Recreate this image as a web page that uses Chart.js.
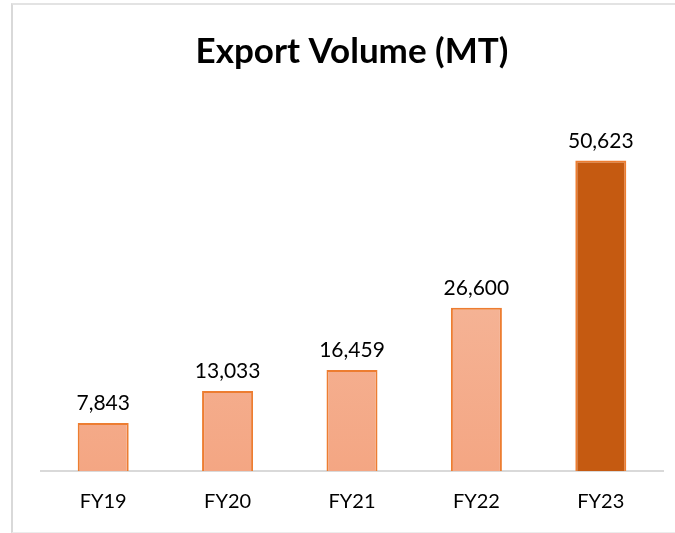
<!DOCTYPE html>
<html lang="en">
<head>
    <meta charset="UTF-8">
    <title>Export Volume (MT)</title>
    <script src="https://cdn.jsdelivr.net/npm/chart.js"></script>
    <style>
        body { margin: 0; background: #fff; }
        #frame {
            position: absolute; left: 11px; top: 3px; width: 670px; height: 527px;
            border-left: 2px solid #d9d9d9; border-top: 2px solid #e3e3e3; border-bottom: 1px solid #ececec;
        }
        #wrap { position: absolute; left: 0; top: 0; width: 675px; height: 533px; }
    </style>
</head>
<body>
    <div id="frame"></div>
    <div id="wrap"><canvas id="myChart"></canvas></div>
<script>
    const years = ['FY19', 'FY20', 'FY21', 'FY22', 'FY23'];
    const volume = [7843, 13033, 16459, 26600, 50623];
    const highlight = [false, false, false, false, true];

    // 막대 위에 값 쓰기
    const valueLabels = {
        id: 'valueLabels',
        afterDatasetsDraw(chart) {
            const ctx = chart.ctx;
            const meta = chart.getDatasetMeta(0);
            ctx.save();
            ctx.font = '21px Lato, sans-serif';
            ctx.fillStyle = '#000';
            ctx.textAlign = 'center';
            ctx.textBaseline = 'bottom';
            meta.data.forEach((bar, i) => {
                ctx.fillText(volume[i].toLocaleString('en-US'), bar.x, bar.y - 9);
            });
            ctx.restore();
        }
    };

    function barFill(context) {
        if (highlight[context.dataIndex]) return '#c55a11';
        const area = context.chart.chartArea;
        if (!area) return '#f5b396';
        const bar = context.chart.getDatasetMeta(0).data[context.dataIndex];
        const top = bar && bar.y ? bar.y : area.top;
        const g = context.chart.ctx.createLinearGradient(0, top, 0, area.bottom);
        g.addColorStop(0, '#f6c2aa');
        g.addColorStop(1, '#f4a683');
        return g;
    }

    const myChart = new Chart(document.querySelector('#myChart'), {
        type: 'bar',
        data: {
            labels: years,
            datasets: [{
                data: volume,
                backgroundColor: barFill,
                borderColor: '#ed7d31',
                borderWidth: 2,
                borderSkipped: 'bottom',
                barPercentage: 0.41,
                categoryPercentage: 1
            }]
        },
        options: {
            responsive: true,
            maintainAspectRatio: false,
            animation: false,
            layout: { padding: { left: 41, right: 12, top: 0, bottom: 0 } },
            plugins: {
                legend: { display: false },
                tooltip: { enabled: false },
                title: {
                    display: true,
                    text: 'Export Volume (MT)',
                    color: '#000',
                    font: { family: 'Lato, sans-serif', size: 35, weight: 'bold', lineHeight: 1.2 },
                    padding: { top: 31, bottom: 30 }
                }
            },
            scales: {
                x: {
                    grid: { display: false, drawTicks: false },
                    border: { display: true, color: '#d9d9d9', width: 2 },
                    ticks: { color: '#000', padding: 19, font: { family: 'Lato, sans-serif', size: 20 } }
                },
                y: {
                    display: false,
                    min: 0,
                    max: 60000
                }
            }
        },
        plugins: [valueLabels]
    });
</script>
</body>
</html>
